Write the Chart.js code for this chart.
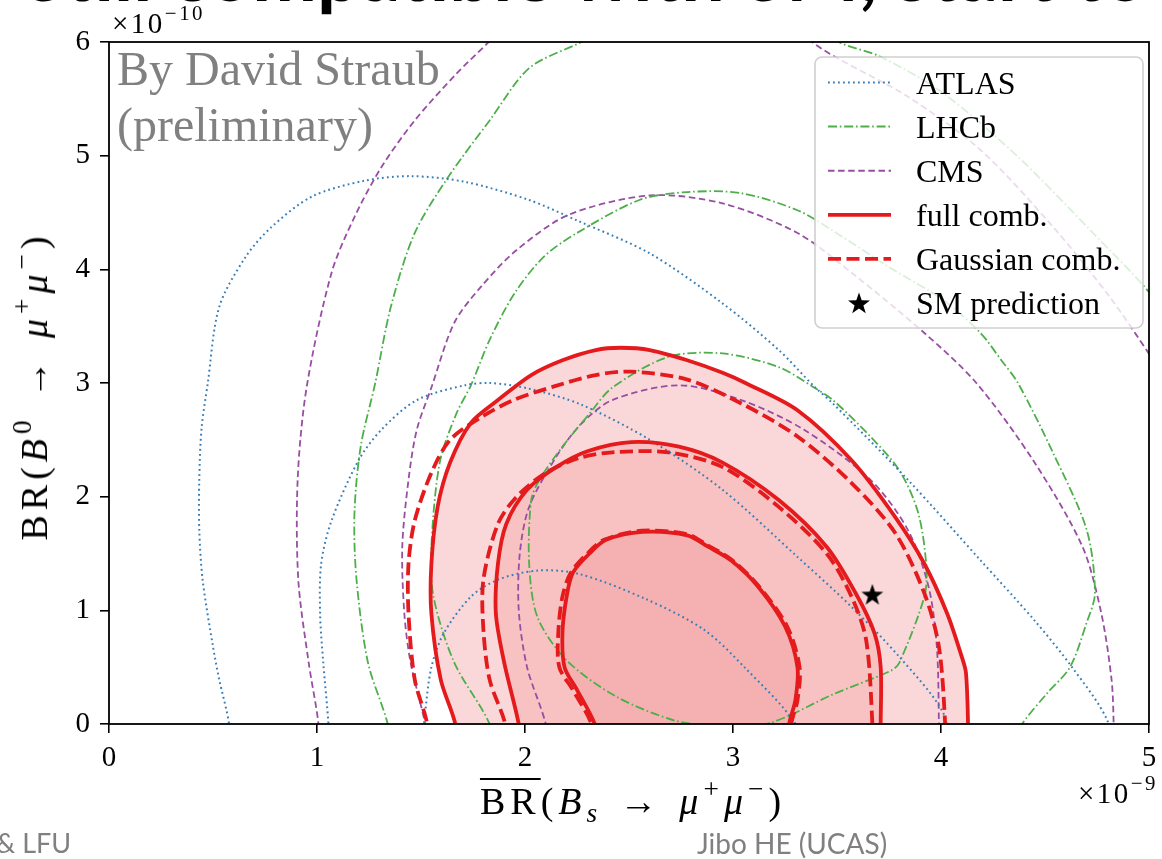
<!DOCTYPE html>
<html>
<head>
<meta charset="utf-8">
<script src="https://cdn.jsdelivr.net/npm/chart.js@4.4.1/dist/chart.umd.min.js"></script>
<style>
  html, body { margin: 0; padding: 0; background: #fff; }
  #page { position: relative; width: 1162px; height: 859px; overflow: hidden; background: #fff; }
  #chart { position: absolute; left: 0; top: 0; }
  .txt { position: absolute; white-space: nowrap; }
  .serif { font-family: 'Liberation Serif', 'DejaVu Serif', serif; }
  .sans { font-family: 'Lato', 'Open Sans', sans-serif; }
  .m sup, .m sub { font-size: 0.72em; line-height: 0; position: relative; vertical-align: baseline; }
  .m sup { top: -0.6em; }
  .m sub { top: 0.3em; }
  .m .arr { margin: 0 0.45em; }
  .ovl { text-decoration: overline; text-decoration-thickness: 1.6px; }
  .axt { letter-spacing: 5px; }
  .off { letter-spacing: 2.5px; }
</style>
</head>
<body>
<div id="page">
  <canvas id="chart" width="1162" height="859"></canvas>

  <div id="slideTitle" class="txt sans" style="font-weight:700;font-size:80px;line-height:80px;color:#000;">Still compatible with SM, start to</div>

  <div class="txt serif" style="left:117px;top:45px;font-size:48px;line-height:48px;color:#808080;">By David Straub</div>
  <div class="txt serif" style="left:117px;top:101px;font-size:48px;line-height:48px;color:#808080;">(preliminary)</div>

  <div class="txt serif m off" style="left:112px;top:9px;font-size:29px;line-height:29px;">×10<sup>−10</sup></div>
  <div class="txt serif m off" style="right:4px;top:779px;font-size:29px;line-height:29px;">×10<sup>−9</sup></div>

  <div class="txt serif m axt" style="left:633px;top:782px;font-size:38px;line-height:38px;transform:translateX(-50%);">
    <span class="ovl">BR</span>(<i>B</i><sub><i>s</i></sub><span class="arr">→</span><i>μ</i><sup>+</sup><i>μ</i><sup>−</sup>)
  </div>
  <div class="txt serif m axt" style="left:34px;top:386px;font-size:38px;line-height:38px;transform:translate(-50%,-50%) rotate(-90deg);">
    BR(<i>B</i><sup>0</sup><span class="arr">→</span><i>μ</i><sup>+</sup><i>μ</i><sup>−</sup>)
  </div>

  <div class="txt sans" style="left:-4px;top:829px;font-size:27px;line-height:27px;color:#808080;">&amp; LFU</div>
  <div class="txt sans" style="left:697px;top:829px;font-size:28px;line-height:28px;color:#808080;">Jibo HE (UCAS)</div>
</div>

<script>
// ---- tick labels ----
const xTickLabels = ['0', '1', '2', '3', '4', '5'];
const yTickLabels = ['0', '1', '2', '3', '4', '5', '6'];

// ---- legend labels ----
const legendLabels = ['ATLAS', 'LHCb', 'CMS', 'full comb.', 'Gaussian comb.', 'SM prediction'];

// ---- contours: [BR(Bs) x1e-9, BR(B0) x1e-10], innermost to outermost ----
const atlasInner = [[1.50,-0.3],[1.52,0.1],[1.55,0.5],[1.61,0.80],[1.74,1.12],[1.87,1.27],[2.06,1.35],[2.26,1.32],[2.58,1.10],[2.86,0.83],[3.06,0.49],[3.30,0],[3.33,-0.3]];
const atlasMid = [[1.06,-0.3],[1.055,0],[1.03,0.54],[1.015,0.97],[1.02,1.41],[1.07,1.79],[1.20,2.32],[1.31,2.59],[1.48,2.85],[1.71,2.98],[1.83,3.0],[2.02,2.95],[2.27,2.81],[2.60,2.50],[2.95,2.06],[3.31,1.47],[3.57,1.03],[3.80,0.59],[4.01,0.10],[4.05,-0.3]];
const atlasOuter = [[0.58,-0.3],[0.577,0],[0.53,0.39],[0.50,0.68],[0.45,1.27],[0.434,1.71],[0.434,2.15],[0.445,2.6],[0.475,3.0],[0.53,3.67],[0.657,4.11],[0.78,4.37],[0.975,4.64],[1.23,4.78],[1.45,4.82],[1.71,4.77],[2.02,4.61],[2.25,4.43],[2.60,4.14],[2.95,3.70],[3.22,3.29],[3.39,2.97],[3.48,2.82],[3.84,2.15],[4.19,1.44],[4.45,0.91],[4.63,0.50],[4.80,0.03],[4.82,-0.3]];

const lhcbInner = [[2.95,-0.03],[2.72,0.03],[2.44,0.24],[2.20,0.56],[2.06,0.94],[2.02,1.41],[2.03,1.97],[2.07,2.15],[2.18,2.44],[2.31,2.73],[2.42,2.96],[2.69,3.23],[2.95,3.26],[3.22,3.14],[3.39,2.96],[3.48,2.85],[3.66,2.53],[3.80,2.23],[3.89,1.86],[3.93,1.38],[3.92,1.12],[3.80,0.54],[3.76,0.47],[3.48,0.26],[3.18,0.01],[2.95,-0.03]];
const lhcbMid = [[1.86,-0.3],[1.83,0],[1.66,0.54],[1.56,1.12],[1.55,1.56],[1.59,2.30],[1.67,2.73],[1.74,2.98],[1.83,3.38],[1.95,3.79],[2.09,4.11],[2.25,4.32],[2.55,4.61],[2.78,4.68],[3.04,4.67],[3.31,4.52],[3.48,4.34],[3.75,4.02],[4.01,3.73],[4.19,3.44],[4.29,3.20],[4.37,3.0],[4.54,2.38],[4.70,1.71],[4.74,1.15],[4.70,0.89],[4.62,0.50],[4.51,0.27],[4.39,0],[4.30,-0.3]];
const lhcbOuter = [[1.36,-0.3],[1.34,0],[1.245,0.54],[1.19,1.27],[1.18,1.85],[1.21,2.44],[1.28,3.0],[1.355,3.67],[1.47,4.32],[1.63,4.81],[1.83,5.31],[2.02,5.77],[2.26,5.99],[2.6,6.3],[3.1,6.4],[3.52,5.99],[3.71,5.87],[4.01,5.55],[4.37,4.99],[4.72,4.34],[5.0,3.8],[5.2,3.3]];

const cmsInner = [[2.12,-0.3],[2.10,0],[2.01,0.50],[1.97,1.0],[1.975,1.5],[2.02,1.91],[2.15,2.35],[2.27,2.64],[2.42,2.85],[2.74,2.98],[3.04,2.85],[3.34,2.59],[3.66,2.15],[3.84,1.71],[3.94,1.21],[3.98,0.68],[3.99,0],[3.99,-0.3]];
const cmsMid = [[1.54,-0.3],[1.52,0],[1.45,0.54],[1.42,0.97],[1.41,1.56],[1.44,2.15],[1.48,2.59],[1.55,2.96],[1.66,3.53],[1.79,3.85],[1.96,4.17],[2.21,4.48],[2.60,4.65],[2.95,4.58],[3.31,4.32],[3.57,3.97],[3.92,3.44],[4.17,3.0],[4.45,2.30],[4.68,1.56],[4.77,0.98],[4.82,0.39],[4.83,0],[4.83,-0.3]];
const cmsOuter = [[1.01,-0.3],[1.007,0],[0.96,0.54],[0.91,1.27],[0.907,2.15],[0.95,2.96],[1.07,3.97],[1.18,4.46],[1.31,4.90],[1.47,5.31],[1.67,5.72],[1.82,5.99],[2.1,6.5],[2.7,6.9],[3.2,6.4],[3.38,6.0],[3.84,5.52],[4.19,5.05],[4.54,4.37],[4.81,3.76],[5.01,3.23],[5.2,2.7]];

const fullInner = [[2.37,-0.3],[2.335,0],[2.25,0.30],[2.19,0.50],[2.18,0.80],[2.20,1.12],[2.23,1.33],[2.31,1.50],[2.39,1.62],[2.565,1.69],[2.78,1.66],[2.88,1.56],[2.99,1.44],[3.12,1.21],[3.25,0.86],[3.31,0.50],[3.30,0.21],[3.27,0],[3.26,-0.3]];
const fullMid = [[1.99,-0.3],[1.97,0],[1.90,0.54],[1.86,0.97],[1.87,1.41],[1.91,1.76],[2.01,2.06],[2.15,2.26],[2.30,2.40],[2.51,2.48],[2.74,2.44],[2.95,2.30],[3.22,1.97],[3.45,1.56],[3.59,1.15],[3.68,0.80],[3.71,0.50],[3.71,0],[3.71,-0.3]];
const fullOuter = [[1.68,-0.3],[1.665,0],[1.595,0.39],[1.55,0.97],[1.55,1.41],[1.58,1.91],[1.64,2.30],[1.74,2.65],[1.87,2.85],[2.03,3.07],[2.18,3.20],[2.34,3.29],[2.46,3.31],[2.60,3.29],[2.78,3.20],[2.95,3.09],[3.06,3.0],[3.31,2.76],[3.57,2.32],[3.78,1.82],[3.92,1.41],[4.03,0.97],[4.10,0.59],[4.12,0.45],[4.13,0],[4.13,-0.3]];

const gaussInner = [[2.35,-0.3],[2.32,0],[2.23,0.30],[2.165,0.50],[2.16,0.80],[2.18,1.12],[2.22,1.33],[2.30,1.50],[2.38,1.62],[2.56,1.70],[2.78,1.67],[2.88,1.57],[2.99,1.45],[3.12,1.22],[3.26,0.86],[3.32,0.50],[3.31,0.21],[3.28,0],[3.27,-0.3]];
const gaussMid = [[1.92,-0.3],[1.905,0],[1.83,0.39],[1.80,0.83],[1.80,1.27],[1.87,1.76],[1.96,2.0],[2.10,2.21],[2.26,2.34],[2.42,2.39],[2.69,2.39],[2.95,2.26],[3.22,1.91],[3.45,1.50],[3.57,1.12],[3.64,0.74],[3.67,0],[3.67,-0.3]];
const gaussOuter = [[1.54,-0.3],[1.53,0],[1.47,0.39],[1.44,0.97],[1.44,1.41],[1.47,1.79],[1.55,2.21],[1.64,2.50],[1.79,2.70],[1.945,2.85],[2.14,2.97],[2.34,3.07],[2.51,3.10],[2.78,3.03],[3.04,2.82],[3.31,2.53],[3.57,2.12],[3.78,1.68],[3.92,1.15],[3.99,0.68],[4.02,0],[4.02,-0.3]];

// SM prediction
const smPrediction = [[3.67, 1.14]];

// ---- styles ----
const C_ATLAS = '#377eb8', C_LHCB = '#4daf4a', C_CMS = '#984ea3', C_RED = '#e41a1c';
const DASH_ATLAS = [1.8, 3.2], DASH_LHCB = [9, 2.8, 1.6, 2.8], DASH_CMS = [6.5, 3.6], DASH_GAUSS = [13, 5.5];
const SERIF = "'Liberation Serif'";

const pts = a => a.map(([x, y]) => ({ x, y }));

function starImage(size) {
  const c = document.createElement('canvas');
  c.width = c.height = size;
  const g = c.getContext('2d');
  const R = size * 0.48, r = R * 0.4, cx = size / 2, cy = size / 2 + size * 0.04;
  g.fillStyle = '#000';
  g.beginPath();
  for (let i = 0; i < 10; i++) {
    const rad = i % 2 ? r : R;
    const a = -Math.PI / 2 + i * Math.PI / 5;
    g.lineTo(cx + rad * Math.cos(a), cy + rad * Math.sin(a));
  }
  g.closePath();
  g.fill();
  return c;
}
const STAR = starImage(24);

function contour(data, color, dash, width, extra) {
  return Object.assign({
    data: pts(data), borderColor: color, borderDash: dash, borderWidth: width,
    pointRadius: 0, fill: false, tension: 0.3, clip: 0, order: 5,
    borderCapStyle: 'butt', borderJoinStyle: 'round'
  }, extra || {});
}

const datasets = [
  contour(atlasInner, C_ATLAS, DASH_ATLAS, 2),
  contour(atlasMid, C_ATLAS, DASH_ATLAS, 2),
  contour(atlasOuter, C_ATLAS, DASH_ATLAS, 2),
  contour(lhcbInner, C_LHCB, DASH_LHCB, 1.8),
  contour(lhcbMid, C_LHCB, DASH_LHCB, 1.8),
  contour(lhcbOuter, C_LHCB, DASH_LHCB, 1.8),
  contour(cmsInner, C_CMS, DASH_CMS, 1.8),
  contour(cmsMid, C_CMS, DASH_CMS, 1.8),
  contour(cmsOuter, C_CMS, DASH_CMS, 1.8),
  contour(fullInner, C_RED, [], 3.8, { fill: 'shape', backgroundColor: 'rgba(228,26,28,0.10)', order: 2 }),
  contour(fullMid, C_RED, [], 3.8, { fill: 'shape', backgroundColor: 'rgba(228,26,28,0.12)', order: 2 }),
  contour(fullOuter, C_RED, [], 3.8, { fill: 'shape', backgroundColor: 'rgba(228,26,28,0.17)', order: 2 }),
  contour(gaussInner, C_RED, DASH_GAUSS, 3.8, { order: 1 }),
  contour(gaussMid, C_RED, DASH_GAUSS, 3.8, { order: 1 }),
  contour(gaussOuter, C_RED, DASH_GAUSS, 3.8, { order: 1 }),
  { data: pts(smPrediction), showLine: false, pointStyle: STAR, pointRadius: 12, order: 0, clip: false }
];

// Box around the plotting area
const framePlugin = {
  id: 'frame',
  afterDatasetsDraw(chart) {
    const { ctx, chartArea: a } = chart;
    ctx.save();
    ctx.strokeStyle = '#000';
    ctx.lineWidth = 1.8;
    ctx.setLineDash([]);
    ctx.strokeRect(a.left, a.top, a.right - a.left, a.bottom - a.top);
    ctx.restore();
  }
};

// Legend drawn inside the upper-right corner of the plot
const legendRows = [
  { label: legendLabels[0], color: C_ATLAS, dash: DASH_ATLAS, width: 2 },
  { label: legendLabels[1], color: C_LHCB, dash: DASH_LHCB, width: 2 },
  { label: legendLabels[2], color: C_CMS, dash: DASH_CMS, width: 2 },
  { label: legendLabels[3], color: C_RED, dash: [], width: 3.8 },
  { label: legendLabels[4], color: C_RED, dash: DASH_GAUSS, width: 3.8 },
  { label: legendLabels[5], star: true }
];
const boxLegend = {
  id: 'boxLegend',
  afterDatasetsDraw(chart) {
    const ctx = chart.ctx;
    const bx = 815, by = 57, bw = 328, bh = 271, br = 7;
    ctx.save();
    ctx.beginPath();
    ctx.moveTo(bx + br, by);
    ctx.arcTo(bx + bw, by, bx + bw, by + bh, br);
    ctx.arcTo(bx + bw, by + bh, bx, by + bh, br);
    ctx.arcTo(bx, by + bh, bx, by, br);
    ctx.arcTo(bx, by, bx + bw, by, br);
    ctx.closePath();
    ctx.fillStyle = 'rgba(255,255,255,0.8)';
    ctx.fill();
    ctx.strokeStyle = '#cfcfcf';
    ctx.lineWidth = 1.6;
    ctx.stroke();

    ctx.font = '32px ' + SERIF;
    ctx.fillStyle = '#000';
    ctx.textBaseline = 'alphabetic';
    legendRows.forEach((row, i) => {
      const y = 82.5 + i * 44.1;
      if (row.star) {
        ctx.drawImage(STAR, 859 - STAR.width / 2, y - STAR.height / 2);
      } else {
        ctx.beginPath();
        ctx.setLineDash(row.dash);
        ctx.lineCap = 'butt';
        ctx.strokeStyle = row.color;
        ctx.lineWidth = row.width;
        ctx.moveTo(828, y);
        ctx.lineTo(891, y);
        ctx.stroke();
        ctx.setLineDash([]);
      }
      ctx.fillText(row.label, 916, y + 11);
    });
    ctx.restore();
  }
};

const tickFont = { family: SERIF, size: 29 };

function drawChart() {
  new Chart(document.getElementById('chart'), {
    type: 'line',
    data: { datasets },
    options: {
      responsive: false,
      animation: false,
      devicePixelRatio: 1,
      layout: { padding: { top: 42, right: 5, left: 0, bottom: 0 } },
      plugins: {
        legend: { display: false },
        tooltip: { enabled: false },
        filler: { drawTime: 'beforeDatasetsDraw', propagate: false }
      },
      scales: {
        x: {
          type: 'linear', min: 0, max: 5,
          ticks: { stepSize: 1, font: tickFont, color: '#000', padding: 8, maxRotation: 0,
                   callback: v => xTickLabels[v] },
          grid: { drawOnChartArea: false, drawTicks: true, tickLength: 9, color: '#000', lineWidth: 1.6 },
          border: { display: false },
          afterFit(s) { s.height = 135; s.paddingLeft = 0; s.paddingRight = 0; }
        },
        y: {
          type: 'linear', min: 0, max: 6,
          ticks: { stepSize: 1, font: tickFont, color: '#000', padding: 10,
                   callback: v => yTickLabels[v] },
          grid: { drawOnChartArea: false, drawTicks: true, tickLength: 9, color: '#000', lineWidth: 1.6 },
          border: { display: false },
          afterFit(s) { s.width = 109; s.paddingTop = 0; s.paddingBottom = 0; }
        }
      }
    },
    plugins: [framePlugin, boxLegend]
  });
}

// Fit the slide heading so that only the lower part of its glyphs shows at the top edge
function placeHeading() {
  const el = document.getElementById('slideTitle');
  const t = el.textContent;
  const g = document.createElement('canvas').getContext('2d');
  const fam = 'Lato';
  g.font = '700 100px ' + fam;
  const iP = t.indexOf('compatible') + 3;
  const iC = t.indexOf(',');
  const wp = g.measureText('p').width;
  const xP = g.measureText(t.slice(0, iP)).width + 0.18 * wp;
  const xC = g.measureText(t.slice(0, iC)).width + g.measureText(',').width / 2;
  const size = 100 * 545 / (xC - xP);
  g.font = '700 ' + size + 'px ' + fam;
  const m = g.measureText('Hp');
  const A = m.fontBoundingBoxAscent, D = m.fontBoundingBoxDescent;
  const baseline = 2;
  el.style.fontSize = size + 'px';
  el.style.lineHeight = size + 'px';
  el.style.left = (325 - xP * size / 100) + 'px';
  el.style.top = (baseline - ((size - (A + D)) / 2 + A)) + 'px';
}

const fontLoads = [
  "29px 'Liberation Serif'", "32px 'Liberation Serif'", "italic 32px 'Liberation Serif'", "700 80px Lato"
].map(f => document.fonts.load(f).catch(() => null));
Promise.all(fontLoads).then(() => document.fonts.ready).then(() => {
  placeHeading();
  drawChart();
});
</script>
</body>
</html>
